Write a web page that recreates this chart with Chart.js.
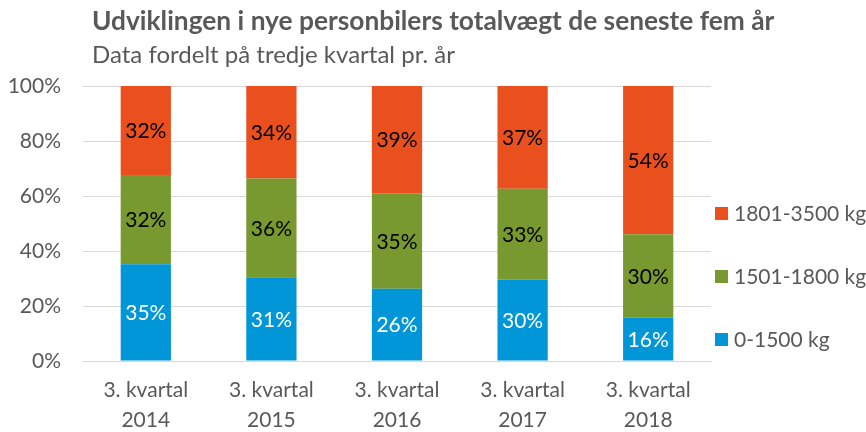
<!DOCTYPE html>
<html>
<head>
<meta charset="utf-8">
<script src="https://cdn.jsdelivr.net/npm/chart.js@4"></script>
<style>
  body { margin: 0; background: #fff; }
  #wrap { position: relative; width: 866px; height: 432px; font-family: Lato, sans-serif; color: #595959; }
  #title { position: absolute; left: 92px; top: 4px; font-size: 26.3px; font-weight: bold; white-space: nowrap; }
  #subtitle { position: absolute; left: 92px; top: 39px; font-size: 24px; white-space: nowrap; }
  canvas { position: absolute; left: 0; top: 0; }
</style>
</head>
<body>
<div id="wrap">
  <canvas id="myChart" width="866" height="432"></canvas>
  <div id="title">Udviklingen i nye personbilers totalvægt de seneste fem år</div>
  <div id="subtitle">Data fordelt på tredje kvartal pr. år</div>
</div>
<script>
const categories = [['3. kvartal', '2014'], ['3. kvartal', '2015'], ['3. kvartal', '2016'], ['3. kvartal', '2017'], ['3. kvartal', '2018']];
const seriesNames = ['0-1500 kg', '1501-1800 kg', '1801-3500 kg'];
const light = [35.2, 30.5, 26.3, 29.6, 15.7];    // 0-1500 kg
const medium = [32.4, 35.9, 34.7, 33.0, 30.4];   // 1501-1800 kg
const heavy = [32.4, 33.6, 39.0, 37.4, 53.9];    // 1801-3500 kg
const yTicks = [0, 20, 40, 60, 80, 100];

const colors = ['#0096D7', '#77992F', '#E9501E'];
const labelColors = ['#ffffff', '#000000', '#000000'];
const textGray = '#595959';
const fontFamily = 'Lato, sans-serif';

// draws the % values in the middle of each segment
const segmentLabels = {
    id: 'segmentLabels',
    afterDatasetsDraw(chart) {
        const ctx = chart.ctx;
        ctx.save();
        ctx.font = '21px ' + fontFamily;
        ctx.textAlign = 'center';
        ctx.textBaseline = 'middle';
        chart.data.datasets.forEach((ds, i) => {
            const meta = chart.getDatasetMeta(i);
            meta.data.forEach((bar, j) => {
                ctx.fillStyle = labelColors[i];
                ctx.fillText(Math.round(ds.data[j]) + '%', bar.x, (bar.y + bar.base) / 2 + 1);
            });
        });
        ctx.restore();
    }
};

// legend on the right, heaviest class on top like the original
const sideLegend = {
    id: 'sideLegend',
    afterDraw(chart) {
        const ctx = chart.ctx;
        const area = chart.chartArea;
        const x = area.right + 4;
        const rows = [339, 276, 213];
        ctx.save();
        ctx.font = '21px ' + fontFamily;
        ctx.textBaseline = 'middle';
        ctx.textAlign = 'left';
        chart.data.datasets.forEach((ds, i) => {
            const y = rows[i];
            ctx.fillStyle = colors[i];
            ctx.fillRect(x, y - 6, 13, 13);
            ctx.fillStyle = textGray;
            ctx.fillText(ds.label, x + 19, y + 1);
        });
        ctx.restore();
    }
};

const datasets = [light, medium, heavy].map((values, i) => ({
    label: seriesNames[i],
    data: values,
    backgroundColor: colors[i],
    borderWidth: 0,
    barPercentage: 0.4,
    categoryPercentage: 1
}));

const myChart = new Chart(document.getElementById('myChart').getContext('2d'), {
    type: 'bar',
    data: { labels: categories, datasets: datasets },
    plugins: [segmentLabels, sideLegend],
    options: {
        responsive: false,
        animation: false,
        layout: { padding: { top: 86, right: 155, left: 0, bottom: 0 } },
        plugins: {
            legend: { display: false },
            tooltip: { enabled: false }
        },
        scales: {
            x: {
                stacked: true,
                afterFit(scale) { scale.height = 71; },
                grid: { display: false },
                border: { color: '#d9d9d9' },
                ticks: {
                    color: textGray,
                    padding: 6,
                    font: { family: fontFamily, size: 21, lineHeight: 1.43 }
                }
            },
            y: {
                stacked: true,
                min: 0,
                max: 100,
                afterFit(scale) { scale.width = 83; },
                afterBuildTicks(scale) { scale.ticks = yTicks.map(v => ({ value: v })); },
                grid: { color: '#d9d9d9', drawTicks: false },
                border: { display: false },
                ticks: {
                    color: textGray,
                    padding: 22,
                    font: { family: fontFamily, size: 21 },
                    callback: v => v + '%'
                }
            }
        }
    }
});
</script>
</body>
</html>
